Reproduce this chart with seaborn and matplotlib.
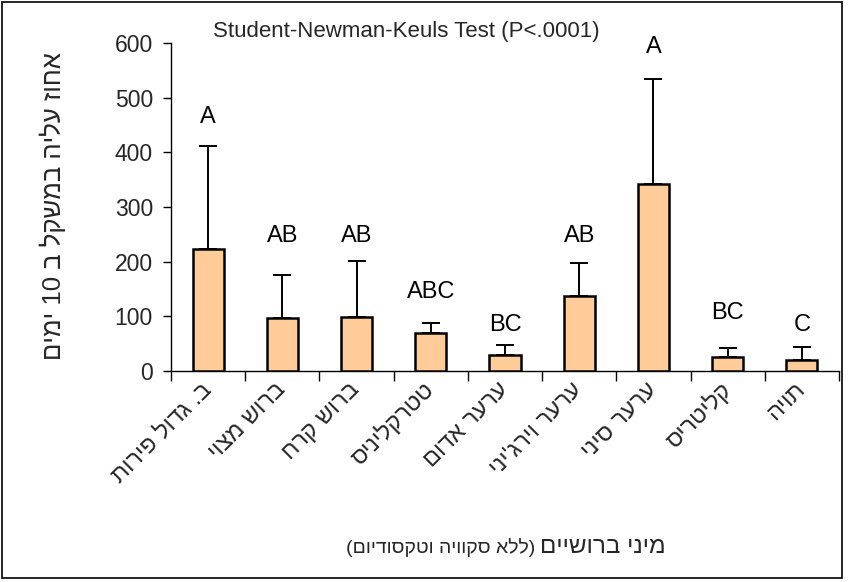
import numpy as np
import pandas as pd
import matplotlib
matplotlib.use("Agg")
import matplotlib.pyplot as plt
import seaborn as sns
from matplotlib.patches import Rectangle

# ---- data ----
categories = ["ב. גדול פירות", "ברוש מצוי", "ברוש קרח", "טטרקליניס", "ערער אדום",
              "ערער וירג'יני", "ערער סיני", "קליטריס", "תויה"]
means = [223, 97, 99, 70, 29, 138, 342, 25, 20]
sd_upper = [188, 79, 102, 17, 18, 60, 192, 17, 24]
letters = ["A", "AB", "AB", "ABC", "BC", "AB", "A", "BC", "C"]
letter_heights = [465, 247, 247, 145, 84, 247, 593, 106, 84]
yticks = [0, 100, 200, 300, 400, 500, 600]

title_text = "Student-Newman-Keuls Test (P<.0001)"
ylabel_text = "אחוז עליה במשקל ב 10 ימים"
xlabel_main = "מיני ברושיים"
xlabel_sub = "(ללא סקוויה וטקסודיום)"


def rtl(s):
    """Convert logical RTL Hebrew text to visual LTR order for matplotlib."""
    mirror = {"(": ")", ")": "("}
    words = s.split(" ")
    out = []
    for w in reversed(words):
        if w.isdigit():
            out.append(w)
        else:
            out.append("".join(mirror.get(c, c) for c in reversed(w)))
    return " ".join(out)


sns.set_theme(style="white")
plt.rcParams["font.family"] = ["Liberation Sans", "DejaVu Sans"]

W, H = 848, 582
fig = plt.figure(figsize=(W / 100, H / 100), dpi=100)
ax = fig.add_axes([171 / W, 1 - 371 / H, (839 - 171) / W, (371 - 43) / H])

vis_labels = [rtl(c) for c in categories]
df = pd.DataFrame({"species": vis_labels, "value": means})

sns.barplot(data=df, x="species", y="value", ax=ax, color="#FFCC99",
            saturation=1, edgecolor="black", linewidth=1.8, width=0.42,
            errorbar=None, zorder=3)

xpos = np.arange(len(categories))
ax.errorbar(xpos, means, yerr=[np.zeros(len(means)), sd_upper], fmt="none",
            ecolor="black", elinewidth=1.4, capsize=6.5, capthick=1.4, zorder=2)

for x, t, h in zip(xpos, letters, letter_heights):
    ax.text(x, h, t, ha="center", va="center", fontsize=17, color="black")

ax.set_xlim(-0.5, len(categories) - 0.5)
ax.set_ylim(0, 600)
ax.set_yticks(yticks)
ax.set_yticklabels([str(v) for v in yticks], fontsize=16.5)

# boundary ticks (major) without labels, labels on minor ticks at centres
ax.set_xticks(np.arange(-0.5, len(categories), 1.0))
ax.set_xticklabels([])
ax.set_xticks(xpos, minor=True)
ax.set_xticklabels(vis_labels, minor=True, rotation=45, ha="right",
                   va="center", rotation_mode="anchor", fontsize=17)
ax.tick_params(axis="x", which="major", direction="out", length=7, width=1,
               color="black", bottom=True)
ax.tick_params(axis="x", which="minor", length=0, pad=11, bottom=True)
ax.tick_params(axis="y", direction="out", length=6, width=1, color="black",
               left=True, pad=7)

ax.set_xlabel("")
ax.set_ylabel("")
for s in ["top", "right"]:
    ax.spines[s].set_visible(False)
for s in ["left", "bottom"]:
    ax.spines[s].set_color("black")
    ax.spines[s].set_linewidth(1.0)
ax.grid(False)

fig.text(406 / W, 1 - 32 / H, title_text, ha="center", va="center", fontsize=16)
fig.text(53 / W, 1 - 206 / H, rtl(ylabel_text), ha="center", va="center",
         rotation=90, fontsize=18.5)
fig.text(540 / W, 1 - 547 / H, rtl(xlabel_main), ha="left", va="center",
         fontsize=17.5)
fig.text(535 / W, 1 - 548 / H, rtl(xlabel_sub), ha="right", va="center",
         fontsize=14)

fig.patches.append(Rectangle((2 / W, 1 - 578 / H), 840 / W, 576 / H,
                             transform=fig.transFigure, fill=False,
                             edgecolor="black", linewidth=1.2))

fig.savefig("out.png", dpi=100, facecolor="white")
